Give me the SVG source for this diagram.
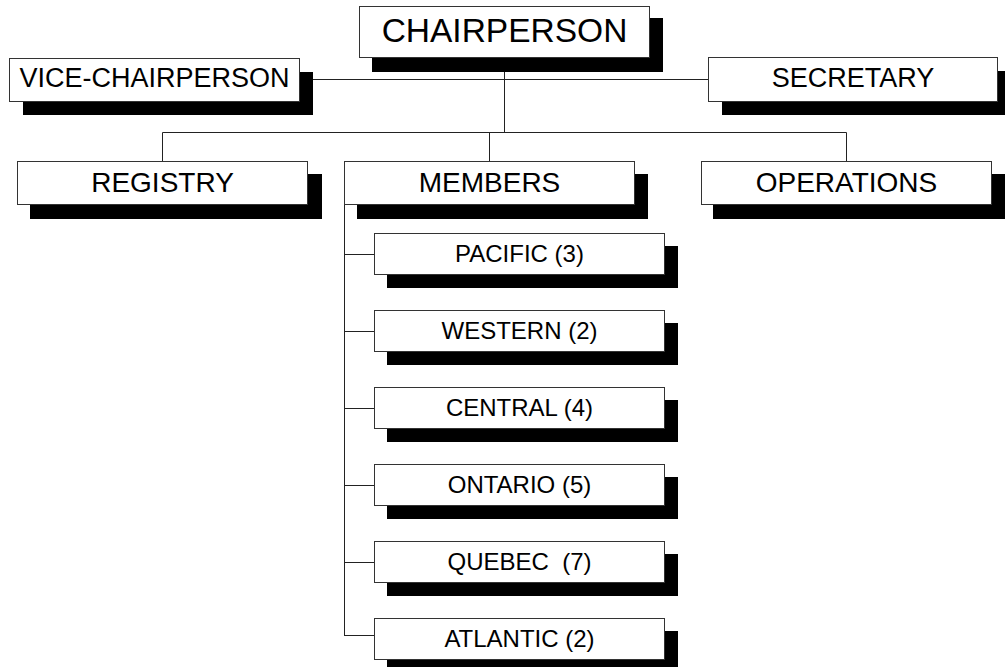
<svg xmlns="http://www.w3.org/2000/svg" width="1005" height="667" viewBox="0 0 1005 667">
<style>
.box{fill:#fff;stroke:#333;stroke-width:1}
.sh{fill:#000}
.ln{stroke:#222;stroke-width:1;fill:none}
text{font-family:"Liberation Sans",Arial,sans-serif;fill:#000;text-anchor:middle}
.t1{font-size:33.5px}
.t2{font-size:27px}
.t3{font-size:28px}
.t4{font-size:24px}
</style>
<rect width="1005" height="667" fill="#fff"/>
<g id="connectors">
<path class="ln" d="M504.5 58V132.5M313 79.5H708M162.5 132.5H846.5M162.5 132.5V161M489.5 132.5V161M846.5 132.5V161"/>
<path class="ln" d="M344.5 204V635.5M344 254.5H374M344 331.5H374M344 408.5H374M344 485.5H374M344 562.5H374M344 635.5H374"/>
</g>
<g id="chairperson">
<rect class="sh" x="372" y="18" width="291" height="54"/>
<rect class="box" x="359.5" y="6.5" width="290" height="51"/>
<text class="t1" x="504.5" y="42">CHAIRPERSON</text>
</g>
<g id="vice-chairperson">
<rect class="sh" x="23" y="72" width="290" height="43"/>
<rect class="box" x="9.5" y="58.5" width="290" height="43"/>
<text class="t2" x="154.5" y="87">VICE-CHAIRPERSON</text>
</g>
<g id="secretary">
<rect class="sh" x="722" y="71" width="290" height="44"/>
<rect class="box" x="708.5" y="57.5" width="289" height="44"/>
<text class="t2" x="853" y="87">SECRETARY</text>
</g>
<g id="registry">
<rect class="sh" x="30" y="174" width="292" height="45"/>
<rect class="box" x="17.5" y="161.5" width="290" height="43"/>
<text class="t3" x="162.5" y="192">REGISTRY</text>
</g>
<g id="members">
<rect class="sh" x="357" y="174" width="291" height="45"/>
<rect class="box" x="344.5" y="161.5" width="290" height="43"/>
<text class="t3" x="489.5" y="192">MEMBERS</text>
</g>
<g id="operations">
<rect class="sh" x="713" y="174" width="292" height="45"/>
<rect class="box" x="701.5" y="161.5" width="290" height="43"/>
<text class="t3" x="846.5" y="192">OPERATIONS</text>
</g>
<g id="pacific">
<rect class="sh" x="387" y="246" width="291" height="42"/>
<rect class="box" x="374.5" y="233.5" width="290" height="41"/>
<text class="t4" x="519.5" y="262">PACIFIC (3)</text>
</g>
<g id="western">
<rect class="sh" x="387" y="323" width="291" height="42"/>
<rect class="box" x="374.5" y="310.5" width="290" height="41"/>
<text class="t4" x="519.5" y="339">WESTERN (2)</text>
</g>
<g id="central">
<rect class="sh" x="387" y="400" width="291" height="42"/>
<rect class="box" x="374.5" y="387.5" width="290" height="41"/>
<text class="t4" x="519.5" y="416">CENTRAL (4)</text>
</g>
<g id="ontario">
<rect class="sh" x="387" y="477" width="291" height="42"/>
<rect class="box" x="374.5" y="464.5" width="290" height="41"/>
<text class="t4" x="519.5" y="493">ONTARIO (5)</text>
</g>
<g id="quebec">
<rect class="sh" x="387" y="554" width="291" height="42"/>
<rect class="box" x="374.5" y="541.5" width="290" height="41"/>
<text class="t4" x="519.5" y="570" xml:space="preserve">QUEBEC  (7)</text>
</g>
<g id="atlantic">
<rect class="sh" x="387" y="631" width="291" height="42"/>
<rect class="box" x="374.5" y="618.5" width="290" height="41"/>
<text class="t4" x="519.5" y="647">ATLANTIC (2)</text>
</g>
</svg>
